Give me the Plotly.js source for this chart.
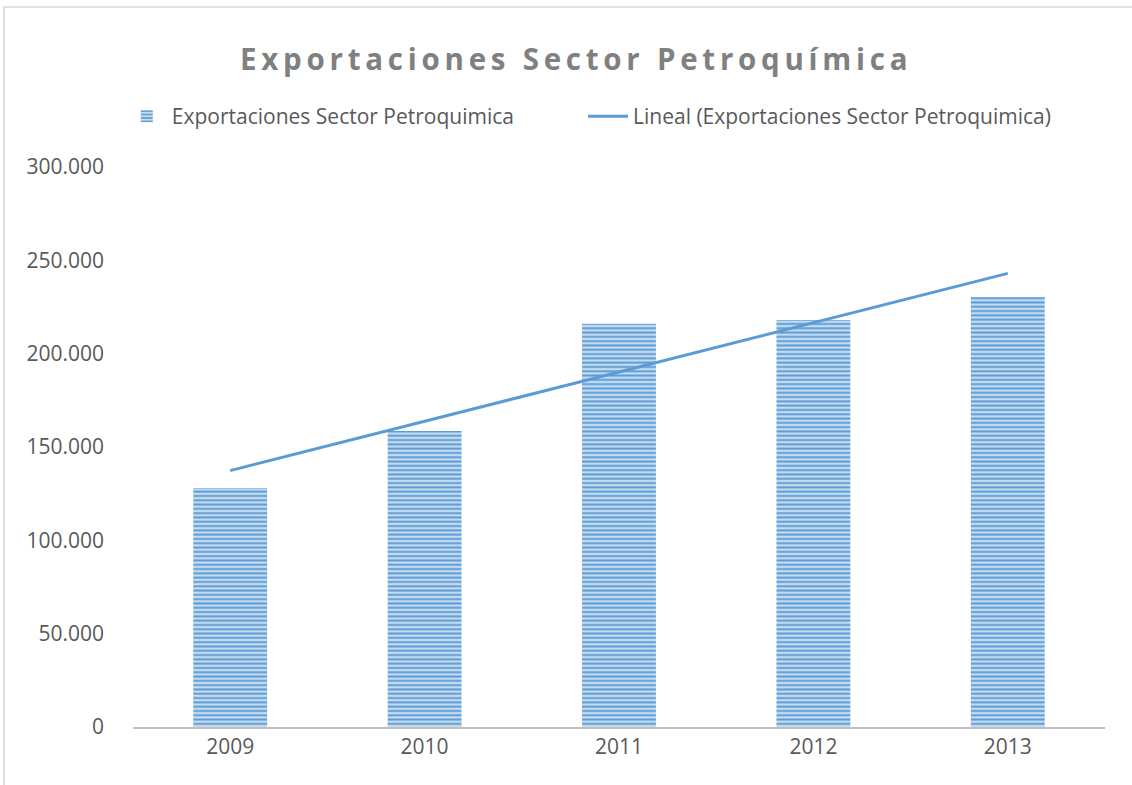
<!DOCTYPE html>
<html>
<head>
<meta charset="utf-8">
<script src="https://cdn.plot.ly/plotly-3.0.1.min.js"></script>
<style>
  html, body { margin: 0; padding: 0; background: #fff; }
  #chart { width: 1132px; height: 785px; }
  .gtitle { letter-spacing: 4.75px; }
</style>
</head>
<body>
<div id="chart"></div>
<script>
const years = ['2009', '2010', '2011', '2012', '2013'];
const exportValues = [128000, 158600, 216000, 218000, 230400];
const yTicks = [0, 50000, 100000, 150000, 200000, 250000, 300000];

// Linear trendline (least squares) over category index, as in the spreadsheet
const n = exportValues.length;
const xs = exportValues.map((_, i) => i + 1);
const mx = xs.reduce((a, b) => a + b, 0) / n;
const my = exportValues.reduce((a, b) => a + b, 0) / n;
let num = 0, den = 0;
for (let i = 0; i < n; i++) { num += (xs[i] - mx) * (exportValues[i] - my); den += (xs[i] - mx) ** 2; }
const slope = num / den;
const trend = xs.map(x => my + slope * (x - mx));

const font = 'Open Sans, Liberation Sans, sans-serif';

const bars = {
  type: 'bar',
  name: 'Exportaciones Sector Petroquimica',
  x: years,
  y: exportValues,
  legend: 'legend',
  marker: {
    color: '#bdd7ee',
    line: { width: 0 },
    pattern: { shape: '-', fgcolor: '#5b9bd5', bgcolor: '#c5dcf0', size: 4.3, solidity: 0.45, fillmode: 'replace' }
  },
  hoverinfo: 'x+y'
};
const line = {
  type: 'scatter',
  mode: 'lines',
  name: 'Lineal (Exportaciones Sector Petroquimica)',
  x: years,
  y: trend,
  legend: 'legend2',
  line: { color: '#5b9bd5', width: 3 },
  hoverinfo: 'skip'
};

const legendFont = { family: font, size: 21, color: '#595959' };

const layout = {
  width: 1132,
  height: 785,
  margin: { l: 133, r: 27, t: 167, b: 58 },
  paper_bgcolor: '#ffffff',
  plot_bgcolor: '#ffffff',
  separators: ',.',
  font: { family: font, color: '#595959', size: 21 },
  title: {
    text: '<b>Exportaciones Sector Petroquímica</b>',
    font: { family: font, size: 29.5, color: '#808080' },
    x: 0.509, xanchor: 'center', y: 0.924, yanchor: 'middle'
  },
  bargap: 0.62,
  showlegend: true,
  legend: {
    orientation: 'h',
    x: -0.0115, xanchor: 'left',
    y: 1.09, yanchor: 'middle',
    font: legendFont,
    itemwidth: 40
  },
  legend2: {
    orientation: 'h',
    x: 0.463, xanchor: 'left',
    y: 1.09, yanchor: 'middle',
    font: legendFont,
    itemwidth: 40
  },
  xaxis: {
    type: 'category',
    showgrid: false,
    zeroline: false,
    showline: true,
    linecolor: '#bfbfbf',
    linewidth: 2,
    ticks: '',
    tickfont: { family: font, size: 21, color: '#595959' },
    fixedrange: true
  },
  yaxis: {
    range: [0, 300000],
    tickvals: yTicks,
    tickformat: ',d',
    showgrid: false,
    zeroline: false,
    showline: false,
    ticks: '',
    ticklabelstandoff: 28,
    tickfont: { family: font, size: 21, color: '#595959' },
    fixedrange: true
  },
  shapes: [
    { type: 'line', xref: 'paper', yref: 'paper', x0: (4 - 133) / 972, x1: 1.2, y0: (727 - 7) / 560, y1: (727 - 7) / 560, line: { color: '#d9d9d9', width: 1.5 } },
    { type: 'line', xref: 'paper', yref: 'paper', x0: (4 - 133) / 972, x1: (4 - 133) / 972, y0: (727 - 7) / 560, y1: -0.3, line: { color: '#d9d9d9', width: 1.5 } }
  ]
};

Plotly.newPlot('chart', [bars, line], layout, { displayModeBar: false });
</script>
</body>
</html>
